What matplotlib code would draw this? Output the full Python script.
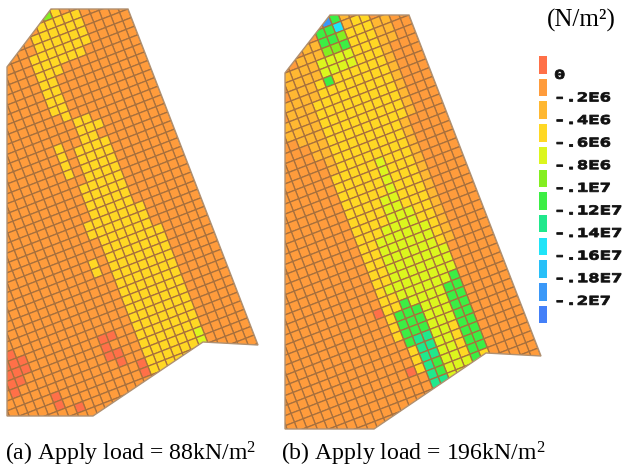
import numpy as np
import matplotlib
matplotlib.use("Agg")
import matplotlib.pyplot as plt
from matplotlib.collections import PolyCollection
from matplotlib.patches import Polygon
from matplotlib.patheffects import AbstractPathEffect
from matplotlib.transforms import Affine2D

plt.rcParams['font.family'] = ['Liberation Serif', 'DejaVu Sans']
plt.rcParams['mathtext.fontset'] = 'custom'
plt.rcParams['mathtext.rm'] = 'Liberation Serif'
plt.rcParams['mathtext.default'] = 'rm'

level_colors = ['#ff7048', '#ff9c3c', '#ffb832', '#ffd824', '#dcf61e', '#84ee20',
                '#3cee44', '#20e88c', '#20e4f8', '#28c0f8', '#3a98f8', '#4480f8']
legend_labels = ['0', '-.2E6', '-.4E6', '-.6E6', '-.8E6', '-.1E7', '-.12E7',
                 '-.14E7', '-.16E7', '-.18E7', '-.2E7']

outline_a = [(51, 9), (128, 9), (258, 345), (203, 342), (93, 416), (7, 416), (7, 67), (10, 63)]
outline_b = [(330, 15), (409, 15), (541, 356), (486, 353), (374, 429), (285, 429), (285, 73), (288, 69)]

# stress level of each mesh cell, one string per row, right end on the slanted edge
cells_a = """
15311.....
1133333111..
1133333311111
111133333311111
111333333311111
1111333333111111
1111333111111111
11111331111111111
11111331111111111
11111331111111111
111111331111111111
111111131111111111
111111113311111111
1111111113331111111
1111113113311111111
11111113133331111111
11111113133331111111
11111113133331111111
111111111133331111111
111111111333331111111
1111111111333331111111
1111111111333331111111
1111111111333331111111
11111111113333333111111
11111111113333333111111
111111111111333333111111
111111111111333333311111
111111111131333333311111
1111111111131333333311111
1111111111111333333311111
1111111111111333333311111
11111111111111333333311111
11111111111111333333311111
001111111111111333333311111
000111111111111333333311111
000111111110011333333311111
0001111111110111333333311111
1011111111110011333333311111
11111111111111011333333411111
11111101111111110333333411111
111101111111110333333.11111
11110111111111........111
1111111..............1
""".split()

cells_b = """
1a621.....
1166823311..
1226653332211
112225563332211
222244443332211
1222244443332111
1222363333332111
12222333333332111
12223333333332111
22223333333332111
122223333333332111
112223333333332111
1111223333333332111
1111223333333321111
1111123333333321111
11111123333333321111
11111133333433321111
11111133333433321111
111111133333433321111
111111133333433321111
1111111133334433321111
1111111133334433321111
1111111133334443321111
11111111133344443321111
11111111133444444321111
111111111133444444321111
111111111133444444321111
111111111133444444411111
1111111111133444444411111
1111111111134444444411111
1111111111133444444611111
11111111111033644446611111
11111111111136664446611111
111111111111136664446611111
111111111111136664446611111
111111111111116774436611111
1111111111111113774436611111
1111111111111113774436611111
11111111111111103764436611111
11111111111111111764446311111
11111111111111177444..11111
1111111111111.........11
111111................
""".split()


class Stretch(AbstractPathEffect):
    def __init__(self, x0, sx):
        super().__init__()
        self.x0 = x0
        self.sx = sx

    def draw_path(self, renderer, gc, tpath, affine, rgbFace=None):
        t = affine + Affine2D().translate(-self.x0, 0).scale(self.sx, 1).translate(self.x0, 0)
        gc0 = renderer.new_gc()
        gc0.copy_properties(gc)
        gc0.set_linewidth(0.6)
        gc0.set_foreground(rgbFace)
        renderer.draw_path(gc0, tpath, t, rgbFace)
        gc0.restore()


fig = plt.figure(figsize=(6.25, 4.68), dpi=100)
ax = fig.add_axes([0, 0, 1, 1])
ax.set_xlim(0, 625)
ax.set_ylim(468, 0)
ax.axis('off')

theta = np.arctan2(130, 336)


def draw_panel(outline, rows, step):
    e1 = step * np.array([np.cos(theta), -np.sin(theta)])
    e2 = step * np.array([np.sin(theta), np.cos(theta)])
    anchor = np.array(outline[1], float)
    polys, cols = [], []
    for j, row in enumerate(rows, start=-3):
        for i, ch in enumerate(reversed(row)):
            if ch == '.':
                continue
            polys.append([anchor - (i + a) * e1 + (j + b) * e2 for a, b in [(0, 0), (1, 0), (1, 1), (0, 1)]])
            cols.append(level_colors[int(ch, 16)])
    boundary = Polygon(outline, closed=True, fc='none', ec='none')
    ax.add_patch(boundary)
    pc = PolyCollection(polys, facecolors=cols, edgecolors='#a8703c', linewidths=0.9)
    ax.add_collection(pc)
    pc.set_clip_path(boundary)
    ax.add_patch(Polygon(outline, closed=True, fc='none', ec='#b09070', lw=1.0))


draw_panel(outline_a, cells_a, 9.2)
draw_panel(outline_b, cells_b, 9.4)

for k, color in enumerate(level_colors):
    y = 56 + k * 22.7
    ax.add_patch(plt.Rectangle((539, y), 8, 17.5, fc=color, ec='none'))
for k, label in enumerate(legend_labels):
    ax.text(554, 75.3 + k * 22.6, label, family='DejaVu Sans Mono', weight='bold', fontsize=8.8,
            color='#111111', va='center', ha='left', path_effects=[Stretch(554, 1.55)])

ax.text(547, 27, '(N/m²)', fontsize=18, ha='left', va='baseline')
ax.text(5, 460, '(a) Apply load = 88kN/m$^{2}$', fontsize=17.1, ha='left', va='baseline')
ax.text(281, 460, '(b) Apply load = 196kN/m$^{2}$', fontsize=17.1, ha='left', va='baseline')

fig.savefig('out.png', dpi=100)
